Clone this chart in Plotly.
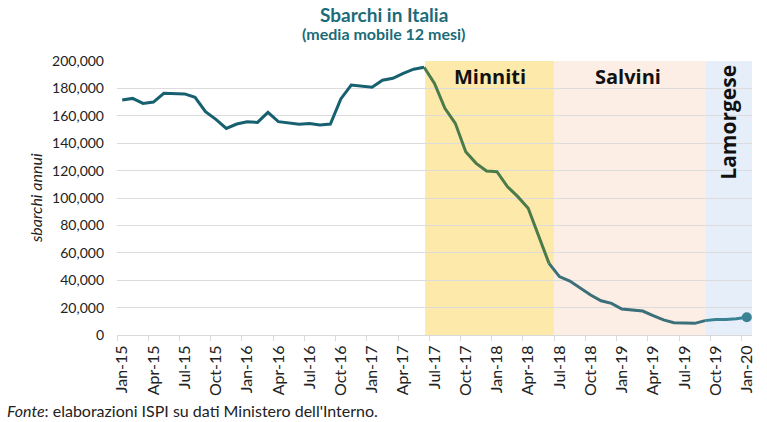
import plotly.graph_objects as go

# ---- data ----
months = list(range(61))  # Jan-15 .. Jan-20
values = [171.5, 172.7, 169, 170, 176.4, 176.4, 176, 173.5, 163, 157.4,
          150.8, 154, 155.7, 155.2, 162.5, 155.7, 154.5, 153.8, 154.3, 153.3,
          154, 172.3, 182.5, 181.8, 180.8, 186, 187.4, 191, 194, 195.4,
          183.7, 165.5, 154.5, 133.8, 125.3, 119.7, 119.2, 108.3, 101, 92.5,
          73, 52.3, 42.6, 39.4, 34, 29.2, 25, 23.1, 19, 18.2,
          17.5, 14.1, 11, 9, 8.5, 8.5, 10.5, 11.3, 11.3, 11.8, 12.9]
values = [v * 1000 for v in values]
tick_labels = ["Jan-15", "Apr-15", "Jul-15", "Oct-15", "Jan-16", "Apr-16", "Jul-16",
               "Oct-16", "Jan-17", "Apr-17", "Jul-17", "Oct-17", "Jan-18", "Apr-18",
               "Jul-18", "Oct-18", "Jan-19", "Apr-19", "Jul-19", "Oct-19", "Jan-20"]
tick_pos = months[::3]
tick_marks = [m - 0.5 for m in tick_pos]
periods = ["Minniti", "Salvini", "Lamorgese"]
period_start = [29.1, 41.5, 56.0]
period_end = [41.5, 56.0, 60.5]
period_fill = ["#fde9a9", "#fdeee5", "#e6eff9"]
seg_bounds = [(0, 29), (29, 41), (41, 56), (56, 60)]
seg_colors = ["#17606f", "#4b7a4b", "#3b6f79", "#3a8194"]

FONT = "Lato"
fig = go.Figure()

for x0, x1, c in zip(period_start, period_end, period_fill):
    fig.add_shape(type="rect", xref="x", yref="y", x0=x0, x1=x1, y0=0, y1=200000,
                  fillcolor=c, line_width=0, layer="below")

for (a, b), c in zip(seg_bounds, seg_colors):
    fig.add_trace(go.Scatter(x=months[a:b + 1], y=values[a:b + 1], mode="lines",
                             line=dict(color=c, width=3), hoverinfo="skip",
                             showlegend=False))

fig.add_trace(go.Scatter(x=[months[-1]], y=[values[-1]], mode="markers",
                         marker=dict(color=seg_colors[-1], size=10), showlegend=False))

# invisible trace for tick-mark axis
fig.add_trace(go.Scatter(x=[months[0]], y=[values[0]], xaxis="x2", mode="markers",
                         marker=dict(opacity=0), hoverinfo="skip", showlegend=False))

# period labels
fig.add_annotation(x=35.3, y=189000, text="<b>Minniti</b>", showarrow=False,
                   font=dict(family="Open Sans", size=20, color="#111"))
fig.add_annotation(x=48.6, y=189000, text="<b>Salvini</b>", showarrow=False,
                   font=dict(family="Open Sans", size=20, color="#111"))
fig.add_annotation(x=58.2, y=155000, text="<b>Lamorgese</b>", showarrow=False,
                   textangle=-90, font=dict(family="Open Sans", size=21, color="#111"))

# titles
fig.add_annotation(xref="paper", yref="paper", x=0.42, y=1.168, yanchor="middle",
                   text="<b>Sbarchi in Italia</b>",
                   showarrow=False, font=dict(family=FONT, size=19, color="#1b6b78"))
fig.add_annotation(xref="paper", yref="paper", x=0.42, y=1.099, yanchor="middle",
                   text="<b>(media mobile 12 mesi)</b>",
                   showarrow=False, font=dict(family=FONT, size=16, color="#1b6b78"))
fig.add_annotation(xref="paper", yref="paper", x=-0.129, y=0.5, xanchor="center",
                   yanchor="middle", text="<i>sbarchi annui</i>",
                   textangle=-90, showarrow=False, font=dict(family=FONT, size=16, color="#222"))
fig.add_annotation(xref="paper", yref="paper", x=-0.176, y=-0.277, xanchor="left",
                   yanchor="middle",
                   text="<i>Fonte</i>: elaborazioni ISPI su dati Ministero dell'Interno.",
                   showarrow=False, font=dict(family=FONT, size=16, color="#222"))

fig.update_layout(
    width=767, height=422,
    margin=dict(l=117, r=13, t=61, b=87),
    paper_bgcolor="white", plot_bgcolor="white",
    font=dict(family=FONT, size=14, color="#222"),
    showlegend=False,
    xaxis2=dict(overlaying="x", anchor="y", side="bottom", range=[-0.5, 60.5],
                tickmode="array", tickvals=tick_marks, showticklabels=False,
                ticks="outside", ticklen=5, tickcolor="#d9d9d9", showgrid=False,
                zeroline=False, showline=False),
)
fig.update_xaxes(selector=dict(anchor="y"), overwrite=False)
fig.update_layout(xaxis=dict(range=[-0.5, 60.5], tickmode="array", tickvals=tick_pos,
                             ticktext=tick_labels, tickangle=-90, showgrid=False,
                             zeroline=False, showline=True, linecolor="#d9d9d9", linewidth=1,
                             ticks="", tickfont=dict(size=16), ticklabelstandoff=3))
fig.update_yaxes(range=[0, 200000], dtick=20000, tickformat=",d", showgrid=True,
                 gridcolor="#dcdcdc", gridwidth=1, zeroline=False, ticks="",
                 tickfont=dict(size=14), ticklabelstandoff=12)

fig.write_html("out.html")
